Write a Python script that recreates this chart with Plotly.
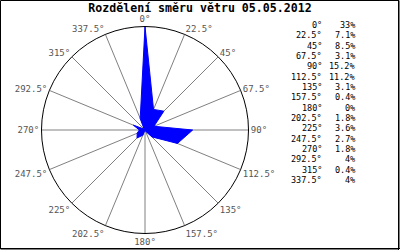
import plotly.graph_objects as go

directions = [0, 22.5, 45, 67.5, 90, 112.5, 135, 157.5, 180, 202.5, 225, 247.5, 270, 292.5, 315, 337.5]
dir_labels = ["0°", "22.5°", "45°", "67.5°", "90°", "112.5°", "135°", "157.5°", "180°",
              "202.5°", "225°", "247.5°", "270°", "292.5°", "315°", "337.5°"]
percent = [33, 7.1, 8.5, 3.1, 15.2, 11.2, 3.1, 0.4, 0, 1.8, 3.6, 2.7, 1.8, 4, 0.4, 4]
percent_text = ["33%", "7.1%", "8.5%", "3.1%", "15.2%", "11.2%", "3.1%", "0.4%", "0%",
                "1.8%", "3.6%", "2.7%", "1.8%", "4%", "0.4%", "4%"]
title_text = "Rozdělení směru větru 05.05.2012"

W, H = 400, 250
MONO = "DejaVu Sans Mono, Liberation Mono, monospace"

fig = go.Figure()
fig.add_trace(go.Scatterpolar(
    r=percent + [percent[0]],
    theta=directions + [directions[0]],
    mode="lines",
    fill="toself",
    fillcolor="#0000ff",
    line=dict(color="#0000ff", width=1),
    hoverinfo="skip",
))

cx, cy, rad = 145, 130, 103.5
fig.update_layout(
    width=W, height=H,
    margin=dict(l=0, r=0, t=0, b=0),
    paper_bgcolor="white",
    plot_bgcolor="white",
    showlegend=False,
    title=dict(text="<b>" + title_text + "</b>", x=0.5, xanchor="center",
               y=1 - 8 / H, yanchor="middle",
               font=dict(family=MONO, size=11.6, color="black")),
    polar=dict(
        domain=dict(x=[(cx - rad) / W, (cx + rad) / W],
                    y=[1 - (cy + rad) / H, 1 - (cy - rad) / H]),
        bgcolor="white",
        radialaxis=dict(range=[0, 33], visible=False, showgrid=False),
        angularaxis=dict(
            rotation=90, direction="clockwise",
            tickmode="array", tickvals=directions, ticktext=dir_labels,
            showgrid=True, gridcolor="#808080", gridwidth=1,
            showline=True, linecolor="black", linewidth=1,
            ticks="", tickfont=dict(family=MONO, size=9, color="#555555"),
        ),
    ),
)

# right-hand table
row0, step = 25, 10.33
for i, (lab, pt) in enumerate(zip(dir_labels, percent_text)):
    yy = 1 - (row0 + i * step) / H
    fig.add_annotation(x=324 / W, y=yy, xref="paper", yref="paper", text=lab,
                       showarrow=False, xanchor="right", yanchor="middle",
                       font=dict(family=MONO, size=8.5, color="black"))
    fig.add_annotation(x=357 / W, y=yy, xref="paper", yref="paper", text=pt,
                       showarrow=False, xanchor="right", yanchor="middle",
                       font=dict(family=MONO, size=8.5, color="black"))

# frame
fig.add_shape(type="rect", xref="paper", yref="paper",
              x0=0.5 / W, x1=399 / W, y0=1 - 249 / H, y1=1 - 0.5 / H,
              line=dict(color="black", width=1))
fig.add_shape(type="line", xref="paper", yref="paper",
              x0=398.5 / W, x1=398.5 / W, y0=0, y1=1, line=dict(color="black", width=1))
fig.add_shape(type="line", xref="paper", yref="paper",
              x0=0, x1=1, y0=1 - 248.5 / H, y1=1 - 248.5 / H, line=dict(color="black", width=1))

fig.write_html("out.html")
